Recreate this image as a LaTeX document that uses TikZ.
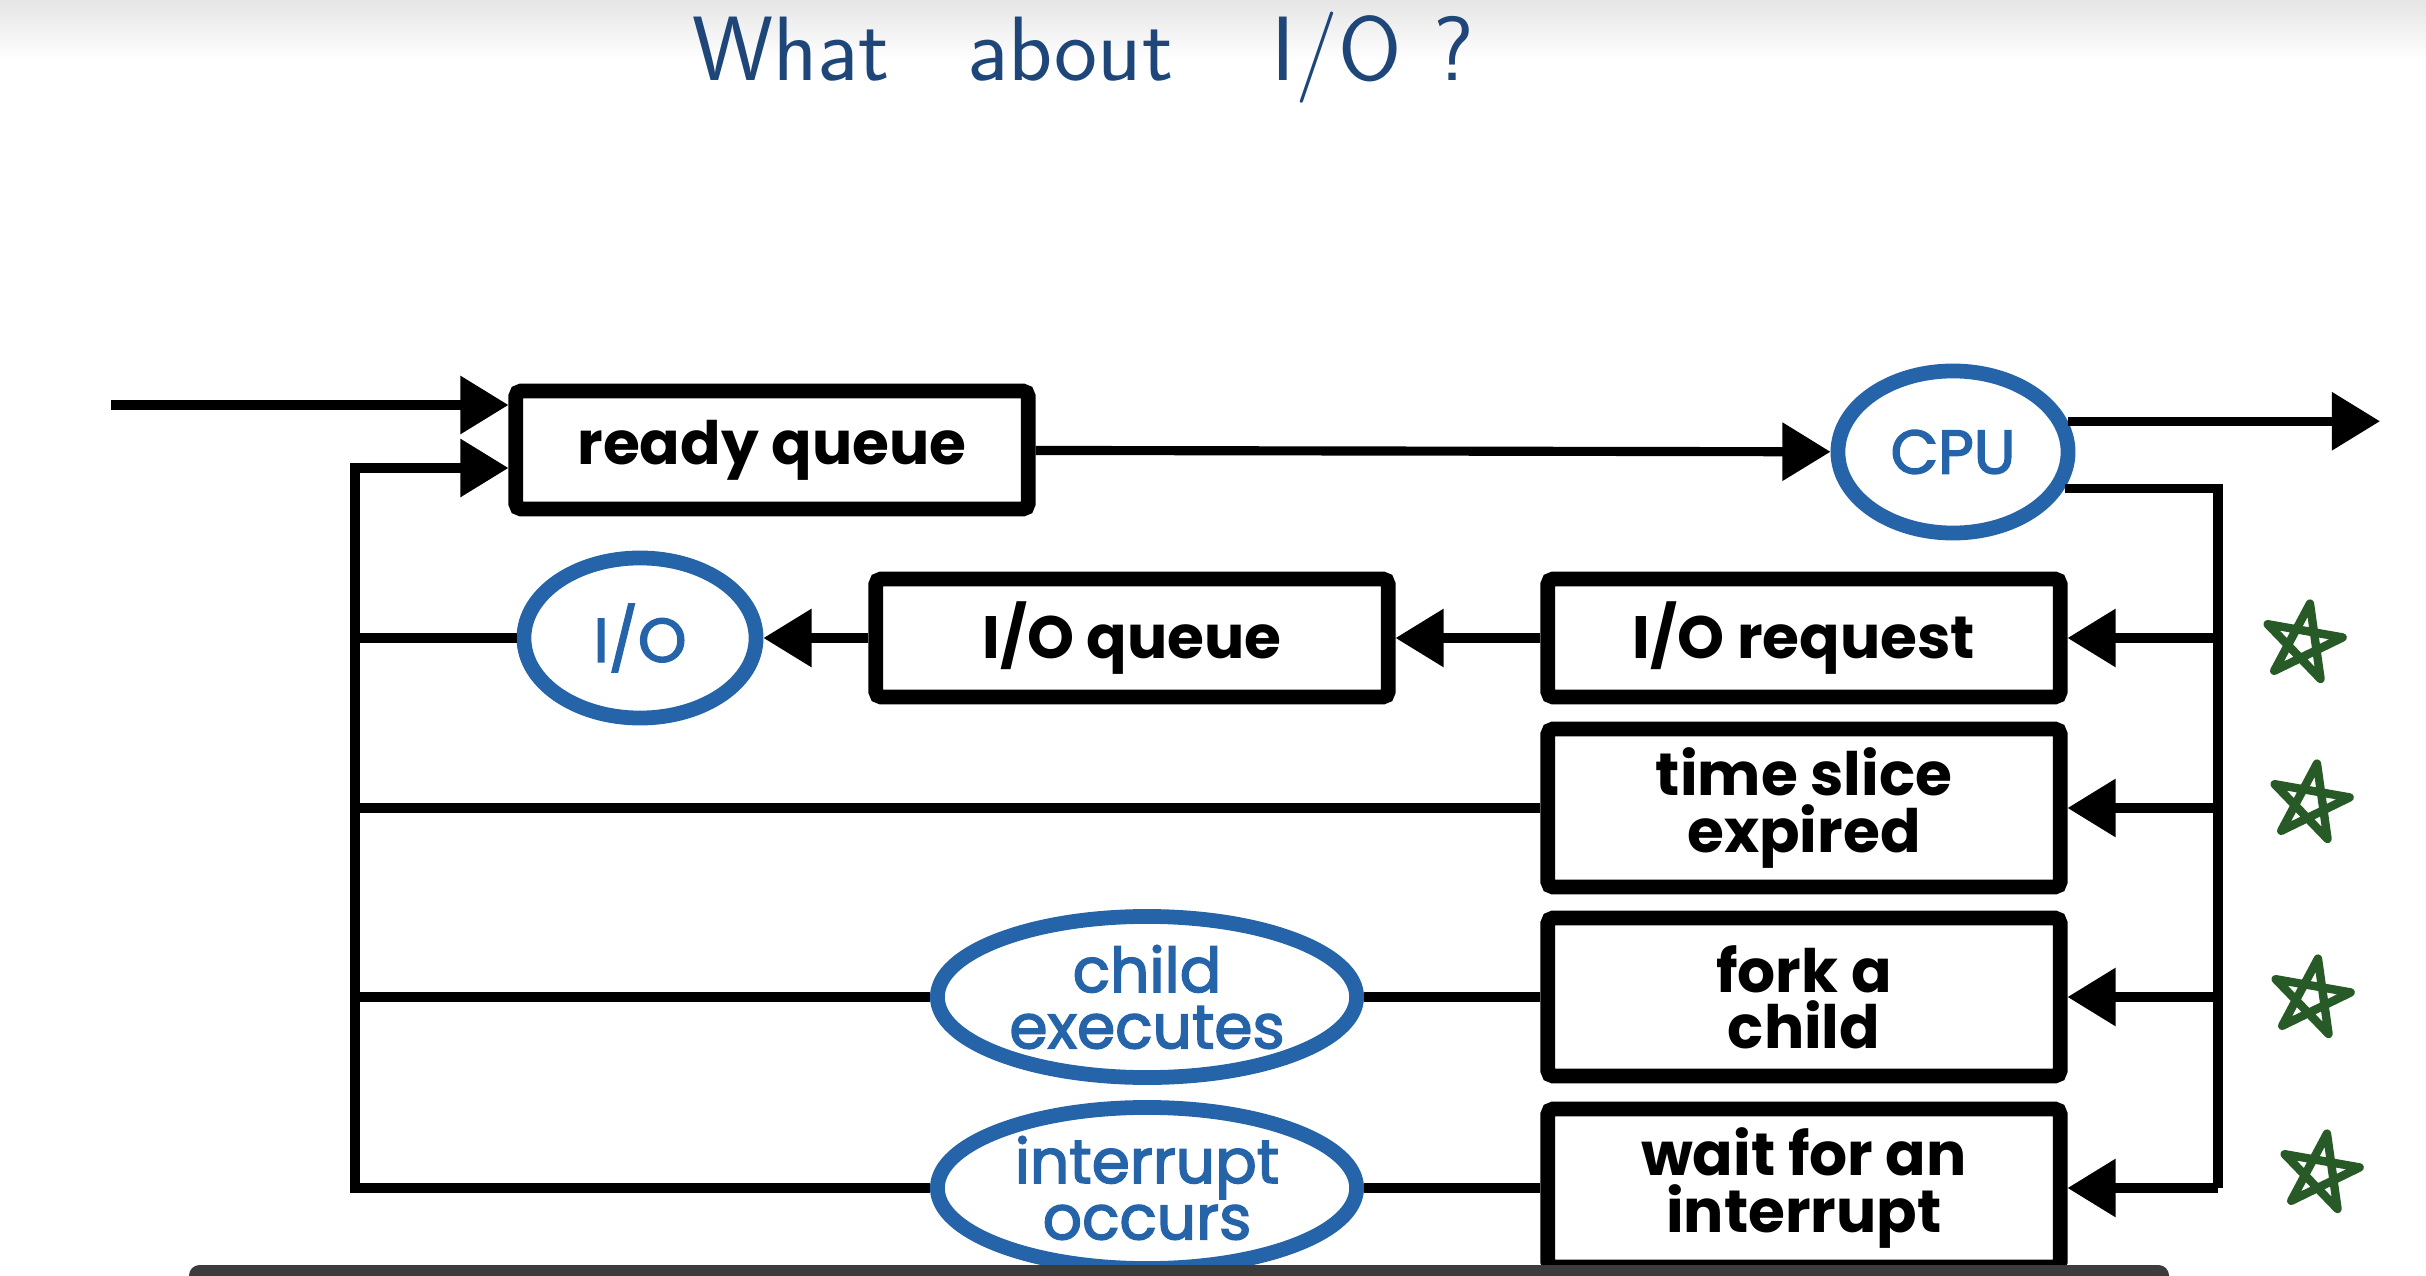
\documentclass[tikz,border=0pt]{standalone}
\usepackage{fontspec}
\setmainfont{Poppins}
\newfontfamily\unitfont{Poppins}[FakeBold=2.5]
\usetikzlibrary{arrows.meta,shapes.geometric}
\definecolor{unitblue}{RGB}{38,100,170}
\definecolor{penblue}{RGB}{30,70,120}
\definecolor{pengreen}{RGB}{40,90,40}
\definecolor{bargray}{RGB}{60,60,60}

\begin{document}
\begin{tikzpicture}[x=0.01cm,y=-0.01cm,
  queue/.style={rectangle,draw,line width=4.2pt,rounded corners=1.5pt,minimum width=5.12cm,minimum height=1.18cm,align=center,font=\bfseries\fontsize{17}{16}\selectfont},
  tall/.style={minimum height=1.58cm},
  unit/.style={ellipse,draw=unitblue,line width=4.2pt,text=unitblue,align=center,inner sep=0pt,font=\unitfont\fontsize{17.5}{16}\selectfont},
  arr/.style={line width=2.6pt,-{Triangle[length=13.7pt,width=16pt]}},
  link/.style={line width=2.6pt}]
\useasboundingbox (0,0) rectangle (2426,1276);
\shade[top color=black!10,bottom color=white] (0,0) rectangle (2426,60);

\node(title) at (1083,58)[text=penblue,font=\sffamily\fontsize{26}{30}\selectfont] {What\hspace{22pt}about\hspace{28pt}I/O\hspace{9pt}?};

\coordinate(src)  at (111,405);
\coordinate(ret)  at (355,468);
\coordinate(exit) at (2380,422);
\coordinate(bus)  at (2218,1188);

\node(rq)    at (772,450)  [queue]                                   {ready queue};
\node(cpu)   at (1953,452) [unit,minimum width=2.3cm,minimum height=1.62cm] {CPU};
\node(req)   at (1804,638) [queue]                                   {I/O request};
\node(ioq)   at (1132,638) [queue]                                   {I/O queue};
\node(io)    at (640,638)  [unit,minimum width=2.32cm,minimum height=1.6cm]  {I/O};
\node(ts)    at (1804,808) [queue,tall]                              {time slice\\expired};
\node(fork)  at (1804,997) [queue,tall]                              {fork a\\child};
\node(wait)  at (1804,1188)[queue,tall]                              {wait for an\\interrupt};
\node(child) at (1147,997) [unit,minimum width=4.19cm,minimum height=1.61cm] {child\\executes};
\node(intr)  at (1147,1188)[unit,minimum width=4.19cm,minimum height=1.61cm] {interrupt\\occurs};

\draw[arr] (src) -- (src -| rq.west);
\path[arr]
  (rq)          edge  (cpu)
  (req)         edge  (ioq)
  (ioq)         edge  (io)
  (bus |- req)  edge  (req)
  (bus |- ts)   edge  (ts)
  (bus |- fork) edge  (fork)
  (bus |- wait) edge  (wait);
\draw[arr] (cpu.15) -- (cpu.15 -| exit);
\draw[link] (cpu.-18) -| (bus);
\path[link]
  (fork)   edge  (child)
  (wait)   edge  (intr)
  (io)     edge  (io -| ret)
  (ts)     edge  (ts -| ret)
  (child)  edge  (child -| ret);
\draw[arr] (intr.west) -| (ret) -- (ret -| rq.west);

% hand drawn marks
\foreach \sx/\sy in {2303/643, 2310/803, 2311/998, 2320/1173}
  \draw[pengreen,line width=2.4pt,line join=round,line cap=round]
    (\sx,\sy) +(-80:40) -- +(64:40) -- +(208:40) -- +(-8:40) -- +(136:40) -- cycle;

\fill[bargray,rounded corners=3pt] (189,1265) rectangle (2169,1290);
\end{tikzpicture}
\end{document}
